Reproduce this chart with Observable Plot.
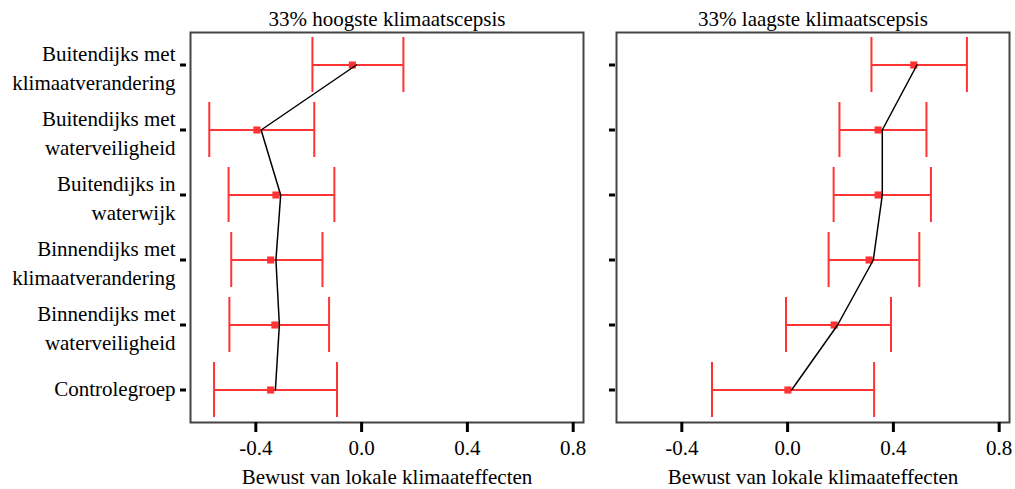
<!DOCTYPE html>
<html>
<head>
<meta charset="utf-8">
<script src="https://cdn.jsdelivr.net/npm/d3@7"></script>
<script src="https://cdn.jsdelivr.net/npm/@observablehq/plot@0.6"></script>
<style>
  html, body { margin: 0; padding: 0; background: white; }
  #wrap { position: relative; width: 1015px; height: 489px; overflow: hidden; }
  #wrap > svg { position: absolute; top: 0; }
  #wrap svg, #wrap svg text { font-family: "Liberation Serif", "Times New Roman", serif !important; }
</style>
</head>
<body>
<div id="wrap"></div>
<script>
const categories = [
  "Buitendijks met\nklimaatverandering",
  "Buitendijks met\nwaterveiligheid",
  "Buitendijks in\nwaterwijk",
  "Binnendijks met\nklimaatverandering",
  "Binnendijks met\nwaterveiligheid",
  "Controlegroep"
];
const panelTitles = ["33% hoogste klimaatscepsis", "33% laagste klimaatscepsis"];
const xLabel = "Bewust van lokale klimaateffecten";
const xTicks = [-0.4, 0.0, 0.4, 0.8];

// Left panel: 33% hoogste klimaatscepsis
const leftEstimate = [-0.035, -0.396, -0.324, -0.344, -0.328, -0.344];
const leftLower    = [-0.186, -0.576, -0.503, -0.493, -0.500, -0.558];
const leftUpper    = [ 0.158, -0.179, -0.103, -0.148, -0.123, -0.093];
const leftLine     = [-0.020, -0.380, -0.306, -0.324, -0.311, -0.326];

// Right panel: 33% laagste klimaatscepsis
const rightEstimate = [0.477, 0.342, 0.342, 0.308, 0.176, 0.001];
const rightLower    = [0.317, 0.196, 0.174, 0.155, -0.006, -0.286];
const rightUpper    = [0.678, 0.525, 0.542, 0.498, 0.391, 0.327];
const rightLine     = [0.489, 0.358, 0.358, 0.324, 0.189, 0.015];

const RED = "#ff3333";
const FONT = "'Liberation Serif', 'Times New Roman', serif";
const FS = 21;

function rows(est, lo, hi, ln) {
  return categories.map((cat, i) => ({cat, est: est[i], lo: lo[i], hi: hi[i], ln: ln[i]}));
}

const twoLine = categories.filter(c => c.includes("\n"));
const oneLine = categories.filter(c => !c.includes("\n"));

function panel({data, title, width, marginLeft, marginRight, showLabels, tickDx}) {
  return Plot.plot({
    width,
    height: 489,
    marginLeft,
    marginRight,
    marginTop: 32,
    marginBottom: 67,
    x: {domain: [-0.647, 0.839]},
    y: {type: "band", domain: categories, paddingInner: 0, paddingOuter: 0},
    style: {fontFamily: FONT, fontSize: FS + "px", color: "black", background: "transparent", overflow: "visible"},
    marks: [
      Plot.ruleY(data, {y: "cat", x1: "lo", x2: "hi", stroke: RED, strokeWidth: 2}),
      Plot.tickX(data, {x: "lo", y: "cat", stroke: RED, strokeWidth: 2, insetTop: 5, insetBottom: 5}),
      Plot.tickX(data, {x: "hi", y: "cat", stroke: RED, strokeWidth: 2, insetTop: 5, insetBottom: 5}),
      Plot.dot(data, {x: "est", y: "cat", symbol: "square", r: 4, fill: RED}),
      Plot.line(data, {x: "ln", y: "cat", stroke: "black", strokeWidth: 1.5}),
      Plot.frame({stroke: "#444", strokeWidth: 2}),
      Plot.axisX({ticks: xTicks, tickSize: 10, tickPadding: 8, strokeWidth: 3, stroke: "black",
                  tickFormat: d => d.toFixed(1), label: null, fontFamily: FONT, fontSize: FS}),
      Plot.axisY({tickSize: 6, dx: tickDx, strokeWidth: 3, stroke: "black", tickFormat: () => "", label: null}),
      ...(showLabels ? [
        Plot.axisY({ticks: twoLine, tickSize: 0, tickPadding: 15, dy: 1.3, lineHeight: 1.36, label: null,
                    fill: "black", fontFamily: FONT, fontSize: FS}),
        Plot.axisY({ticks: oneLine, tickSize: 0, tickPadding: 15, dy: -0.5, label: null,
                    fill: "black", fontFamily: FONT, fontSize: FS})
      ] : []),
      Plot.text([title], {frameAnchor: "top", lineAnchor: "middle", dy: -13.5, fontSize: FS, fill: "black", fontFamily: FONT}),
      Plot.text([xLabel], {frameAnchor: "bottom", lineAnchor: "middle", dy: 55, fontSize: FS, fill: "black", fontFamily: FONT})
    ]
  });
}

const wrap = document.getElementById("wrap");
const left = panel({
  data: rows(leftEstimate, leftLower, leftUpper, leftLine),
  title: panelTitles[0], width: 600, marginLeft: 190, marginRight: 17, showLabels: true, tickDx: -4
});
left.style.left = "0px";
wrap.appendChild(left);

const right = panel({
  data: rows(rightEstimate, rightLower, rightUpper, rightLine),
  title: panelTitles[1], width: 415, marginLeft: 16, marginRight: 6, showLabels: false, tickDx: -1
});
right.style.left = "600px";
wrap.appendChild(right);
</script>
</body>
</html>
